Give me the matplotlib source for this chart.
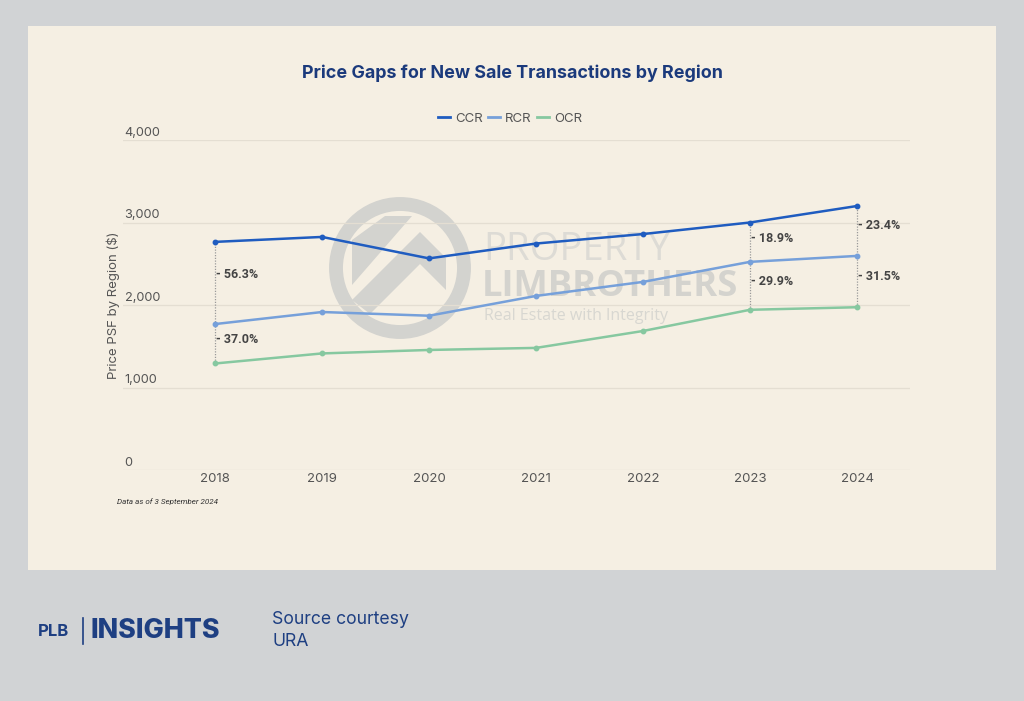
import matplotlib.pyplot as plt
from matplotlib.patches import Rectangle, Ellipse, Polygon
from matplotlib.lines import Line2D
import matplotlib.transforms as mtransforms

years = [2018, 2019, 2020, 2021, 2022, 2023, 2024]
ccr = [2765, 2825, 2565, 2745, 2860, 3000, 3200]
rcr = [1769, 1915, 1870, 2110, 2280, 2523, 2595]
ocr = [1291, 1413, 1455, 1480, 1685, 1942, 1973]
y_ticks = [0, 1000, 2000, 3000, 4000]
gap_years = [2018, 2023, 2024]
gap_ccr_rcr = ['56.3%', '18.9%', '23.4%']
gap_rcr_ocr = ['37.0%', '29.9%', '31.5%']

W, H = 1024, 701
fig = plt.figure(figsize=(W / 100, H / 100), dpi=100)
fig.patch.set_facecolor('#d1d3d5')

def fx(x):
    return x / W

def fy(y):
    return 1 - y / H

# beige card
fig.patches.append(Rectangle((fx(28), fy(570)), fx(996) - fx(28), fy(26) - fy(570),
                             transform=fig.transFigure, facecolor='#f5efe3',
                             edgecolor='none', zorder=-10))

# watermark (behind the axes)
wm = '#d3d3cf'
fig.patches.append(Ellipse((fx(400), fy(268)), 128 / W, 128 / H, transform=fig.transFigure,
                           facecolor='none', edgecolor=wm, linewidth=10, zorder=-5))
fig.patches.append(Polygon([(fx(352), fy(300)), (fx(420), fy(232)), (fx(446), fy(258)),
                            (fx(446), fy(290)), (fx(420), fy(264)), (fx(370), fy(314))],
                           closed=True, transform=fig.transFigure, facecolor=wm,
                           edgecolor='none', zorder=-5))
fig.patches.append(Polygon([(fx(352), fy(285)), (fx(352), fy(240)), (fx(385), fy(216)),
                            (fx(412), fy(216))],
                           closed=True, transform=fig.transFigure, facecolor=wm,
                           edgecolor='none', zorder=-5))
fig.text(fx(483), fy(250), 'PROPERTY', fontsize=27.5, color='#dddbd5', family='Open Sans',
         va='center', ha='left', zorder=-5)
fig.text(fx(482), fy(287), 'LIMBROTHERS', fontsize=26.2, color='#d4d3ce', family='Open Sans',
         fontweight='bold', va='center', ha='left', zorder=-5)
fig.text(fx(484), fy(316), 'Real Estate with Integrity', fontsize=11.5, color='#d8d7d1',
         family='Open Sans', va='center', ha='left', zorder=-5)

ax = fig.add_axes([fx(123), fy(470), fx(910) - fx(123), fy(140) - fy(470)])
ax.set_facecolor('none')
ax.set_xlim(2017.14, 2024.495)
ax.set_ylim(0, 4000)
for s in ax.spines.values():
    s.set_visible(False)
ax.tick_params(left=False, bottom=False, labelleft=False)
ax.set_yticks(y_ticks)
ax.grid(axis='y', color='#e4ded2', linewidth=0.9)
ax.set_axisbelow(True)
ax.set_xticks(years)
ax.set_xticklabels([str(y) for y in years], fontsize=9.5, color='#555555', family='Inter')
ax.tick_params(axis='x', pad=-1)

trans = mtransforms.blended_transform_factory(ax.transAxes, ax.transData)
for t in y_ticks:
    ax.text(0.002, t + 15, f'{t:,}', transform=trans, ha='left', va='bottom',
            fontsize=9.2, color='#555555', family='Inter')
ax.set_ylabel('Price PSF by Region ($)', fontsize=9.5, color='#555555', family='Inter', labelpad=2)

c_ccr, c_rcr, c_ocr = '#1f5cc0', '#76a0da', '#86c8a0'
ax.plot(years, ccr, color=c_ccr, linewidth=1.8, marker='o', markersize=3.2, zorder=4)
ax.plot(years, rcr, color=c_rcr, linewidth=1.8, marker='o', markersize=3.2, zorder=4)
ax.plot(years, ocr, color=c_ocr, linewidth=1.8, marker='o', markersize=3.2, zorder=4)

for yr, g1, g2 in zip(gap_years, gap_ccr_rcr, gap_rcr_ocr):
    i = years.index(yr)
    ax.vlines(yr, ocr[i], ccr[i], colors='#9a9a9a', linestyles=(0, (1, 1.2)), linewidth=0.9, zorder=3)
    ax.text(yr + 0.01, rcr[i] + 0.6 * (ccr[i] - rcr[i]), '- ' + g1, fontsize=9, fontweight='bold',
            color='#444444', family='Roboto', va='center', ha='left', zorder=5)
    ax.text(yr + 0.01, ocr[i] + 0.6 * (rcr[i] - ocr[i]), '- ' + g2, fontsize=9, fontweight='bold',
            color='#444444', family='Roboto', va='center', ha='left', zorder=5)

# title and legend
fig.text(0.5, fy(73), 'Price Gaps for New Sale Transactions by Region', fontsize=12.9,
         fontweight='bold', color='#1b3a7c', family='Inter', ha='center', va='center')
handles = [Line2D([], [], color=c, linewidth=2) for c in (c_ccr, c_rcr, c_ocr)]
fig.legend(handles, ['CCR', 'RCR', 'OCR'], loc='center', bbox_to_anchor=(fx(510), fy(119)),
           ncol=3, frameon=False, handlelength=0.9, handletextpad=0.4,
           columnspacing=0.4, labelcolor='#555555', prop={'family': 'Inter', 'size': 9.5})

fig.text(fx(117), fy(502), 'Data as of 3 September 2024', fontsize=5.8, style='italic',
         color='#333333', family='Roboto', va='center', ha='left')

# footer
navy = '#1e3f82'
fig.text(fx(38), fy(631), 'PLB', fontsize=12, fontweight='bold', color=navy,
         family='Inter', va='center', ha='left')
fig.lines.append(Line2D([fx(83), fx(83)], [fy(618), fy(644)], transform=fig.transFigure,
                        color=navy, linewidth=1.2))
fig.text(fx(91), fy(631), 'INSIGHTS', fontsize=19.3, fontweight='heavy', color=navy,
         family='Inter', va='center', ha='left')
fig.text(fx(272), fy(619), 'Source courtesy', fontsize=12.7, color=navy, family='Inter',
         va='center', ha='left')
fig.text(fx(272), fy(641), 'URA', fontsize=12.7, color=navy, family='Inter',
         va='center', ha='left')

fig.savefig('out.png', dpi=100, facecolor=fig.get_facecolor())
